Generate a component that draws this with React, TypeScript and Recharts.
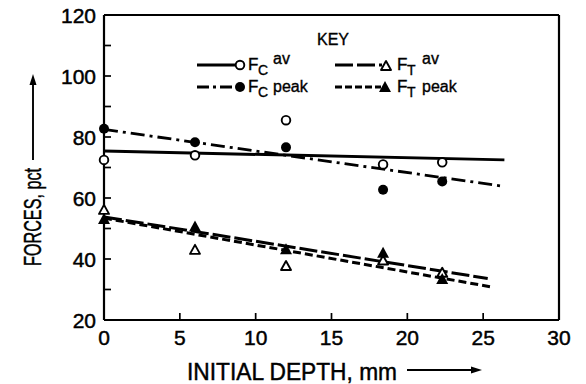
import React from "react";
import { ComposedChart, Line, Scatter, XAxis, YAxis, Legend } from "recharts";

// measured depths (mm) and force readings (pct)
const depths = [0, 6, 12, 18.4, 22.3];
const fcAv = [72.5, 74, 85.5, 71, 71.7];
const fcPeak = [82.7, 78.3, 76.6, 62.7, 65.4];
const ftAv = [56.1, 43.0, 37.7, 39.5, 35.5];
const ftPeak = [52.8, 50.3, 42.9, 41.7, 33.1];

// fitted trend lines: [start, end] depth and force
const fcAvFitX = [0, 26.4];
const fcAvFitY = [75.4, 72.5];
const fcPeakFitX = [0, 26.4];
const fcPeakFitY = [82.5, 63.8];
const ftAvFitX = [0, 25.3];
const ftAvFitY = [53.8, 33.6];
const ftPeakFitX = [0, 25.6];
const ftPeakFitY = [53.4, 30.8];

const xTicks = [0, 5, 10, 15, 20, 25, 30];
const yTicks = [20, 30, 40, 50, 60, 70, 80, 90, 100, 110, 120];
const yLabels = [20, 40, 60, 80, 100, 120];

const pts = (xs: number[], ys: number[]) => xs.map((x, i) => ({ x, y: ys[i] }));

const FONT = "'Liberation Sans', Arial, sans-serif";
const TICK = 7;
// slight outline makes the lettering a little heavier
const INK = { fill: "#000", stroke: "#000", strokeWidth: 0.45 };

const OpenCircle = (p: any) => (
  <circle cx={p.cx} cy={p.cy} r={4.3} fill="#fff" stroke="#000" strokeWidth={1.9} />
);
const DotFilled = (p: any) => <circle cx={p.cx} cy={p.cy} r={5} fill="#000" />;
const OpenTri = (p: any) => (
  <polygon
    points={`${p.cx},${p.cy - 5} ${p.cx - 5},${p.cy + 4} ${p.cx + 5},${p.cy + 4}`}
    fill="#fff"
    stroke="#000"
    strokeWidth={1.9}
    strokeLinejoin="round"
  />
);
const FilledTri = (p: any) => (
  <polygon
    points={`${p.cx},${p.cy - 7} ${p.cx - 6},${p.cy + 4} ${p.cx + 6},${p.cy + 4}`}
    fill="#000"
  />
);

// tick renderers: short inward marks, labels outside
const BottomTick = (p: any) => {
  const v = p.payload.value;
  return (
    <g>
      {v > 0 && v < 30 && <line x1={p.x} x2={p.x} y1={p.y} y2={p.y - TICK} stroke="#000" strokeWidth={1.7} />}
      <text x={p.x} y={p.y + 25} textAnchor="middle" fontSize={21} fontFamily={FONT} {...INK}>
        {v}
      </text>
    </g>
  );
};
const TopTick = (p: any) => {
  const v = p.payload.value;
  if (v <= 0 || v >= 30) return <g />;
  return <line x1={p.x} x2={p.x} y1={p.y} y2={p.y + TICK} stroke="#000" strokeWidth={1.7} />;
};
const LeftTick = (p: any) => {
  const v = p.payload.value;
  return (
    <g>
      {v > 20 && v < 120 && <line x1={p.x} x2={p.x + TICK} y1={p.y} y2={p.y} stroke="#000" strokeWidth={1.7} />}
      {yLabels.includes(v) && (
        <text x={p.x - 8} y={p.y + 7.5} textAnchor="end" fontSize={21} fontFamily={FONT} {...INK}>
          {v}
        </text>
      )}
    </g>
  );
};
const RightTick = (p: any) => {
  const v = p.payload.value;
  if (v <= 20 || v >= 120) return <g />;
  return <line x1={p.x} x2={p.x - TICK} y1={p.y} y2={p.y} stroke="#000" strokeWidth={1.7} />;
};

function KeyBox() {
  const label = (x: number, y: number, sub: string, word: string, raised: boolean) => (
    <g fontFamily={FONT} {...INK} strokeWidth={0.35}>
      <text x={x} y={y + 5} fontSize={17}>F</text>
      <text x={x + 10} y={y + 10} fontSize={14}>{sub}</text>
      <text x={x + 25} y={raised ? y - 1 : y + 5} fontSize={16}>{word}</text>
    </g>
  );
  return (
    <svg width={300} height={80} style={{ overflow: "visible" }}>
      <text x={153} y={20} textAnchor="middle" fontSize={16} fontFamily={FONT} {...INK} strokeWidth={0.35}>KEY</text>
      <line x1={17} x2={56} y1={40} y2={40} stroke="#000" strokeWidth={2.8} />
      <OpenCircle cx={60} cy={40} />
      {label(68, 40, "C", "av", true)}
      <line x1={17} x2={56} y1={62} y2={62} stroke="#000" strokeWidth={2.8} strokeDasharray="12 4 3 4" />
      <DotFilled cx={60} cy={62} />
      {label(68, 62, "C", "peak", false)}
      <line x1={155} x2={202} y1={40} y2={40} stroke="#000" strokeWidth={2.8} strokeDasharray="18 4" />
      <OpenTri cx={206} cy={41} />
      {label(217, 40, "T", "av", true)}
      <line x1={155} x2={201} y1={62} y2={62} stroke="#000" strokeWidth={2.8} strokeDasharray="7 3" />
      <FilledTri cx={205} cy={63} />
      {label(217, 62, "T", "peak", false)}
    </svg>
  );
}

export default function App() {
  return (
    <div style={{ position: "absolute", left: 0, top: 0, width: 586, height: 384, background: "#fff" }}>
      <ComposedChart width={586} height={384} margin={{ top: 10, right: 17, bottom: 34, left: 44 }}>
        <XAxis
          xAxisId="b"
          dataKey="x"
          type="number"
          domain={[0, 30]}
          ticks={xTicks}
          height={30}
          tickLine={false}
          tickSize={0}
          tickMargin={0}
          axisLine={{ stroke: "#000", strokeWidth: 2.2 }}
          tick={<BottomTick />}
          interval={0}
        />
        <XAxis
          xAxisId="t"
          orientation="top"
          dataKey="x"
          type="number"
          domain={[0, 30]}
          ticks={xTicks}
          height={5}
          tickLine={false}
          tickSize={0}
          tickMargin={0}
          axisLine={{ stroke: "#000", strokeWidth: 2.2 }}
          tick={<TopTick />}
          interval={0}
        />
        <YAxis
          yAxisId="l"
          dataKey="y"
          type="number"
          domain={[20, 120]}
          ticks={yTicks}
          width={60}
          tickLine={false}
          tickSize={0}
          tickMargin={0}
          axisLine={{ stroke: "#000", strokeWidth: 2.2 }}
          tick={<LeftTick />}
          interval={0}
        />
        <YAxis
          yAxisId="r"
          orientation="right"
          dataKey="y"
          type="number"
          domain={[20, 120]}
          ticks={yTicks}
          width={10}
          tickLine={false}
          tickSize={0}
          tickMargin={0}
          axisLine={{ stroke: "#000", strokeWidth: 2.2 }}
          tick={<RightTick />}
          interval={0}
        />
        <Legend
          layout="horizontal"
          verticalAlign="middle"
          align="center"
          content={() => <KeyBox />}
          wrapperStyle={{ position: "absolute", left: 180, top: 25, width: 300, height: 80 }}
        />

        <Line xAxisId="b" yAxisId="l" data={pts(fcAvFitX, fcAvFitY)} dataKey="y" stroke="#000" strokeWidth={3} dot={false} isAnimationActive={false} />
        <Line xAxisId="b" yAxisId="l" data={pts(fcPeakFitX, fcPeakFitY)} dataKey="y" stroke="#000" strokeWidth={2.8} strokeDasharray="14 5 3 5" dot={false} isAnimationActive={false} />
        <Line xAxisId="b" yAxisId="l" data={pts(ftAvFitX, ftAvFitY)} dataKey="y" stroke="#000" strokeWidth={3} strokeDasharray="18 4" dot={false} isAnimationActive={false} />
        <Line xAxisId="b" yAxisId="l" data={pts(ftPeakFitX, ftPeakFitY)} dataKey="y" stroke="#000" strokeWidth={3} strokeDasharray="8 4" dot={false} isAnimationActive={false} />

        <Scatter xAxisId="b" yAxisId="l" data={pts(depths, fcAv)} shape={<OpenCircle />} isAnimationActive={false} />
        <Scatter xAxisId="b" yAxisId="l" data={pts(depths, fcPeak)} shape={<DotFilled />} isAnimationActive={false} />
        <Scatter xAxisId="b" yAxisId="l" data={pts(depths, ftAv)} shape={<OpenTri />} isAnimationActive={false} />
        <Scatter xAxisId="b" yAxisId="l" data={pts(depths, ftPeak)} shape={<FilledTri />} isAnimationActive={false} />
      </ComposedChart>

      {/* axis titles with direction arrows */}
      <svg width={586} height={384} style={{ position: "absolute", left: 0, top: 0, pointerEvents: "none" }}>
        <g transform="translate(41 217) rotate(-90)">
          <text x={0} y={0} textAnchor="middle" fontSize={23} fontFamily={FONT} textLength={98} lengthAdjust="spacingAndGlyphs" {...INK}>
            FORCES, pct
          </text>
        </g>
        <line x1={33} x2={33} y1={160} y2={82} stroke="#000" strokeWidth={1.9} />
        <polygon points="33,74 29.5,85 36.5,85" fill="#000" />
        <text x={187} y={380} fontSize={23} fontFamily={FONT} textLength={210} lengthAdjust="spacingAndGlyphs" {...INK}>
          INITIAL DEPTH, mm
        </text>
        <line x1={407} x2={472} y1={370} y2={370} stroke="#000" strokeWidth={1.9} />
        <polygon points="482,370 471,366.5 471,373.5" fill="#000" />
      </svg>
    </div>
  );
}
